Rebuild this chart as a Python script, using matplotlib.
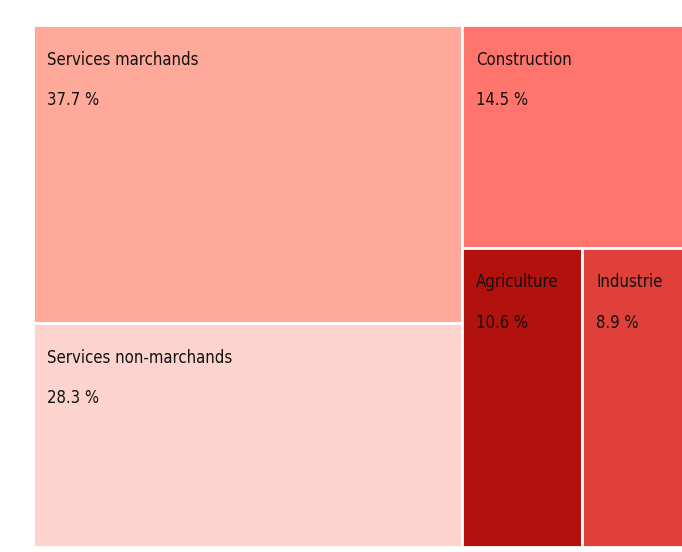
import matplotlib.pyplot as plt
from matplotlib.patches import Rectangle

# Données : part de chaque secteur (%)
secteurs = ["Services marchands", "Services non-marchands", "Construction",
            "Agriculture", "Industrie"]
parts = [37.7, 28.3, 14.5, 10.6, 8.9]
couleurs = ["#FFA99A", "#FDD3CD", "#FF756E", "#B2120D", "#E0403A"]

plt.rcParams['font.family'] = ['DejaVu Sans']
plt.rcParams['font.stretch'] = 'condensed'

fig = plt.figure(figsize=(6.82, 5.52), dpi=100)
ax = fig.add_axes([33 / 682, 5 / 552, 650 / 682, 522 / 552])
total = sum(parts)
ax.set_xlim(0, total)
ax.set_ylim(total, 0)
ax.axis("off")

# Disposition : colonne gauche (services), colonne droite (le reste)
gauche = parts[0] + parts[1]
droite = total - gauche
rects = []
# colonne gauche, empilée verticalement
y = 0
for v in parts[:2]:
    h = v / gauche * total
    rects.append((0, y, gauche, h))
    y += h
# colonne droite : construction en haut, puis agriculture / industrie côte à côte
h = parts[2] / droite * total
rects.append((gauche, 0, droite, h))
reste = parts[3] + parts[4]
x = gauche
for v in parts[3:]:
    w = v / reste * droite
    rects.append((x, h, w, total - h))
    x += w

for (x0, y0, w, hh), nom, v, c in zip(rects, secteurs, parts, couleurs):
    ax.add_patch(Rectangle((x0, y0), w, hh, facecolor=c, edgecolor="white", linewidth=2))
    ax.annotate(nom, (x0, y0), xytext=(10, -25), textcoords="offset points",
                fontsize=12, color="#111111", va="center", ha="left")
    ax.annotate(f"{v:.1f} %", (x0, y0), xytext=(10, -54), textcoords="offset points",
                fontsize=12, color="#111111", va="center", ha="left")

fig.savefig("out.png", dpi=100)
